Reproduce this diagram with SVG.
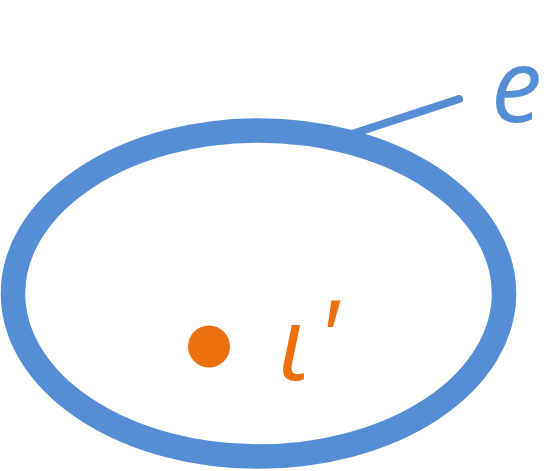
<svg xmlns="http://www.w3.org/2000/svg" width="546" height="471" viewBox="0 0 546 471">
<style>
.blue{stroke:#558ED5;fill:none}
.lbl{font-family:"Open Sans","Noto Sans",sans-serif;font-style:italic;font-size:102px}
</style>
<rect width="546" height="471" fill="#FFFFFF"/>
<g id="connectors">
<line class="blue" x1="352" y1="134" x2="459" y2="99" stroke-width="8" stroke-linecap="round"/>
</g>
<g id="ellipse-e">
<ellipse class="blue" cx="258.5" cy="293.5" rx="245.5" ry="163" stroke-width="24.5"/>
<text class="lbl" x="491" y="122" fill="#558ED5">e</text>
</g>
<g id="point-iota">
<circle cx="209" cy="346.5" r="21" fill="#ED700E"/>
<text class="lbl" x="278" y="380" fill="#ED700E">ι<tspan dx="7" dy="-6">'</tspan></text>
</g>
</svg>
